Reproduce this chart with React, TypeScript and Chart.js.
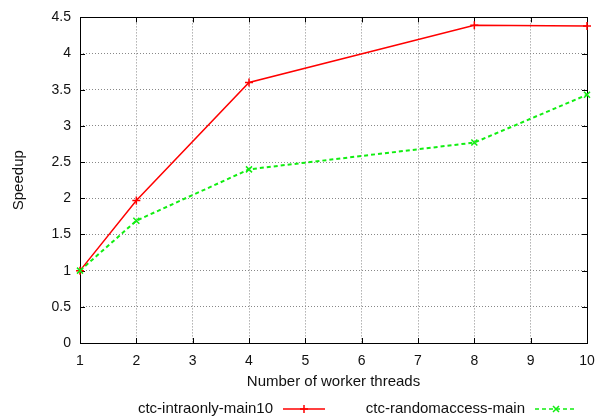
import React, { useEffect, useRef } from "react";
import { Chart, registerables } from "chart.js";

Chart.register(...registerables);

const threads = [1, 2, 4, 8, 10];
const intraOnly = [1, 1.97, 3.6, 4.39, 4.38];
const randomAccess = [1, 1.69, 2.4, 2.77, 3.43];
const seriesNames = ["ctc-intraonly-main10", "ctc-randomaccess-main"];
const xTicks = [1, 2, 3, 4, 5, 6, 7, 8, 9, 10];
const yTicks = [0, 0.5, 1, 1.5, 2, 2.5, 3, 3.5, 4, 4.5];
const xTitle = "Number of worker threads";
const yTitle = "Speedup";

const FONT = "Liberation Sans, Arial, Helvetica, sans-serif";
const RED = "#ff0000";
const GREEN = "#11ee11";

function drawMarker(ctx: CanvasRenderingContext2D, kind: string, x: number, y: number, r: number, color: string) {
  ctx.save();
  ctx.strokeStyle = color;
  ctx.lineWidth = 1.5;
  ctx.setLineDash([]);
  ctx.beginPath();
  if (kind === "cross") {
    ctx.moveTo(x - r, y); ctx.lineTo(x + r, y);
    ctx.moveTo(x, y - r); ctx.lineTo(x, y + r);
  } else {
    ctx.moveTo(x - r, y - r); ctx.lineTo(x + r, y + r);
    ctx.moveTo(x - r, y + r); ctx.lineTo(x + r, y - r);
  }
  ctx.stroke();
  ctx.restore();
}

const framePlugin = {
  id: "frame",
  afterDatasetsDraw(chart: any) {
    const ctx = chart.ctx as CanvasRenderingContext2D;
    const { left, right, top, bottom } = chart.chartArea;
    const xs = chart.scales.x;
    const ys = chart.scales.y;
    ctx.save();
    ctx.strokeStyle = "#000";
    ctx.lineWidth = 1;
    ctx.setLineDash([]);
    ctx.strokeRect(Math.round(left) + 0.5, Math.round(top) + 0.5, Math.round(right - left), Math.round(bottom - top));
    // inward tick marks
    ctx.beginPath();
    for (const v of xTicks) {
      const px = Math.round(xs.getPixelForValue(v)) + 0.5;
      ctx.moveTo(px, bottom); ctx.lineTo(px, bottom - 5);
      ctx.moveTo(px, top); ctx.lineTo(px, top + 5);
    }
    for (const v of yTicks) {
      const py = Math.round(ys.getPixelForValue(v)) + 0.5;
      ctx.moveTo(left, py); ctx.lineTo(left + 5, py);
      ctx.moveTo(right, py); ctx.lineTo(right - 5, py);
    }
    ctx.stroke();

    // markers
    chart.data.datasets.forEach((ds: any, i: number) => {
      const meta = chart.getDatasetMeta(i);
      meta.data.forEach((pt: any) => {
        drawMarker(ctx, i === 0 ? "cross" : "x", pt.x, pt.y, i === 0 ? 4 : 3, ds.borderColor);
      });
    });

    // titles
    ctx.fillStyle = "#111";
    ctx.font = `15px ${FONT}`;
    ctx.textAlign = "center";
    ctx.textBaseline = "middle";
    ctx.fillText(xTitle, (left + right) / 2, 382);
    ctx.save();
    ctx.translate(19, (top + bottom) / 2);
    ctx.rotate(-Math.PI / 2);
    ctx.fillText(yTitle, 0, 0);
    ctx.restore();

    // legend
    const ly = 409;
    const entries = [
      { textRight: 273, x0: 283, x1: 325, color: RED, dash: [] as number[], kind: "cross" },
      { textRight: 525, x0: 535, x1: 577, color: GREEN, dash: [4, 3], kind: "x" },
    ];
    entries.forEach((e, i) => {
      ctx.textAlign = "right";
      ctx.fillStyle = "#111";
      ctx.fillText(seriesNames[i], e.textRight, ly);
      ctx.strokeStyle = e.color;
      ctx.lineWidth = 1.5;
      ctx.setLineDash(e.dash);
      ctx.beginPath();
      ctx.moveTo(e.x0, ly); ctx.lineTo(e.x1, ly);
      ctx.stroke();
      ctx.setLineDash([]);
      drawMarker(ctx, e.kind, (e.x0 + e.x1) / 2, ly, e.kind === "cross" ? 4 : 3, e.color);
    });
    ctx.restore();
  },
};

export default function App() {
  const ref = useRef<HTMLCanvasElement>(null);
  useEffect(() => {
    document.body.style.margin = "0";
    const canvas = ref.current!;
    const chart = new Chart(canvas, {
      type: "line",
      data: {
        datasets: [
          {
            label: seriesNames[0],
            data: threads.map((t, i) => ({ x: t, y: intraOnly[i] })),
            borderColor: RED,
            borderWidth: 1.5,
            pointRadius: 0,
            fill: false,
          },
          {
            label: seriesNames[1],
            data: threads.map((t, i) => ({ x: t, y: randomAccess[i] })),
            borderColor: GREEN,
            borderWidth: 2,
            borderDash: [4, 3],
            pointRadius: 0,
            fill: false,
          },
        ],
      },
      options: {
        responsive: false,
        animation: false,
        layout: { padding: { left: 0, top: 15, right: 18, bottom: 0 } },
        plugins: { legend: { display: false }, tooltip: { enabled: false } },
        scales: {
          x: {
            type: "linear",
            min: 1,
            max: 10,
            afterBuildTicks: (s: any) => { s.ticks = xTicks.map((v) => ({ value: v })); },
            afterFit: (s: any) => { s.height = 76; },
            ticks: { color: "#111", font: { family: FONT, size: 14 }, padding: 10, maxRotation: 0, callback: (v: any) => String(v) },
            grid: { color: "#888", drawTicks: false },
            border: { display: false, dash: [1, 2] },
          },
          y: {
            type: "linear",
            min: 0,
            max: 4.5,
            afterBuildTicks: (s: any) => { s.ticks = yTicks.map((v) => ({ value: v })); },
            afterFit: (s: any) => { s.width = 80; },
            ticks: { color: "#111", font: { family: FONT, size: 14 }, padding: 9, callback: (v: any) => String(v) },
            grid: { color: "#888", drawTicks: false },
            border: { display: false, dash: [1, 2] },
          },
        },
      },
      plugins: [framePlugin],
    } as any);
    return () => chart.destroy();
  }, []);
  return <canvas ref={ref} width={605} height={419} style={{ display: "block" }} />;
}
